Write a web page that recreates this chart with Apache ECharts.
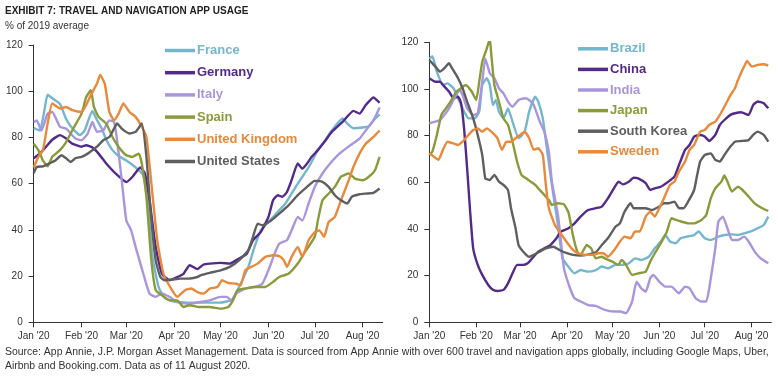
<!DOCTYPE html>
<html>
<head>
<meta charset="utf-8">
<script src="https://cdn.jsdelivr.net/npm/echarts@6/dist/echarts.min.js"></script>
<style>
html,body{margin:0;padding:0;background:#fff;}
#c{width:778px;height:377px;}
</style>
</head>
<body>
<div id="c"></div>
<script>
// ---- Data (dates are MM-DD in 2020, values % of 2019 average) ----
const monthLabels = ["Jan '20","Feb '20","Mar '20","Apr '20","May '20","Jun '20","Jul '20","Aug '20"];
const yTicks = [0, 20, 40, 60, 80, 100, 120];

const france = [['01-01',84],['01-05',83],['01-08',92],['01-10',98.5],['01-14',96.5],['01-18',94.5],['01-22',88],['01-26',84],['01-31',81],['02-03',83],['02-08',91.5],['02-11',87.5],['02-14',84],['02-17',79],['02-21',74.5],['02-25',72],['03-01',70],['03-07',67],['03-12',63.5],['03-15',50],['03-18',28],['03-22',15],['03-26',10.5],['04-01',9],['04-10',8.5],['04-20',8.5],['04-30',8.5],['05-05',9],['05-09',10],['05-13',15.3],['05-19',24],['05-23',32.6],['05-27',39.8],['05-30',42],['06-05',46.3],['06-12',51.4],['06-16',55.7],['06-20',60],['06-27',67],['07-03',74.5],['07-08',78.8],['07-12',83],['07-19',88.2],['07-22',86],['07-26',84],['08-01',84.3],['08-05',84.8],['08-08',87.4],['08-12',90]];
const germany = [['01-01',71],['01-05',73],['01-09',76],['01-13',79],['01-18',81],['01-22',79.5],['01-26',77.3],['02-01',76],['02-04',76.6],['02-08',75.6],['02-12',73],['02-17',68.7],['02-23',64.4],['03-01',60.7],['03-05',63],['03-10',67],['03-13',64.4],['03-16',52.8],['03-20',32.6],['03-24',21],['03-29',18.2],['04-03',19.6],['04-07',21],['04-11',24.7],['04-16',23],['04-20',25],['04-24',25.4],['05-01',25.7],['05-07',25.4],['05-13',27.6],['05-18',29.7],['05-22',35.5],['05-27',39],['06-01',45.6],['06-04',52.8],['06-07',55],['06-10',54.3],['06-13',56.4],['06-16',61.5],['06-20',68.7],['06-23',66.5],['06-26',68.7],['06-29',71.6],['07-03',74.5],['07-08',78.8],['07-12',82.4],['07-19',86.7],['07-26',91.5],['07-30',90.3],['08-03',94],['08-08',97.3],['08-12',95]];
const italy = [['01-01',86.7],['01-03',87.4],['01-06',83],['01-10',90.3],['01-13',91],['01-18',84.6],['01-22',83.8],['01-28',79.5],['02-01',78.8],['02-05',81.7],['02-08',86.7],['02-11',82.4],['02-15',83],['02-19',87.4],['02-22',86.7],['02-24',78.8],['02-27',61.5],['03-01',44],['03-04',40],['03-07',32.6],['03-12',21],['03-16',12.4],['03-20',11],['03-24',12.4],['03-29',11],['04-03',8.8],['04-10',8],['04-18',8.8],['04-24',9.5],['05-01',11],['05-05',11],['05-08',9.5],['05-11',12.4],['05-17',14.6],['05-23',15.3],['05-28',16.7],['06-01',22.5],['06-05',29.7],['06-08',34],['06-13',35.5],['06-16',39.8],['06-20',45.6],['06-23',44],['06-27',51.4],['07-01',58.6],['07-06',64.4],['07-10',68],['07-17',73],['07-24',76.6],['07-30',79.5],['08-03',83],['08-08',87.4],['08-12',93]];
const spain = [['01-01',77.3],['01-04',74.5],['01-07',70],['01-10',67.5],['01-13',71.6],['01-18',74.5],['01-22',78],['01-26',83.1],['02-01',90.3],['02-04',97.5],['02-07',100.4],['02-09',93.2],['02-12',88.9],['02-17',86],['02-21',80.2],['02-25',75.9],['03-01',72.3],['03-05',71.6],['03-09',73],['03-11',68.7],['03-14',54.3],['03-17',28],['03-20',13.9],['03-24',11.7],['03-29',9.5],['04-03',9.5],['04-07',6.6],['04-11',7.4],['04-17',6.6],['04-24',6.6],['05-01',5.9],['05-06',6.6],['05-09',9.5],['05-12',13.9],['05-17',14.6],['05-23',15.3],['05-30',15.3],['06-04',17.5],['06-08',19.6],['06-14',21],['06-20',25.4],['06-24',29.7],['07-01',37],['07-03',44],['07-06',52.8],['07-10',55.7],['07-14',58.6],['07-18',63],['07-23',64.4],['07-27',62.2],['08-01',61.5],['08-05',63],['08-09',65.8],['08-12',71.6]];
const unitedKingdom = [['01-01',67],['01-04',71.6],['01-07',74.5],['01-10',86],['01-13',94.7],['01-18',92.5],['01-22',93.2],['01-26',91.8],['02-01',91],['02-04',94],['02-07',98.3],['02-11',103.3],['02-13',107],['02-16',103.3],['02-19',91],['02-22',87.4],['02-25',90.3],['02-28',94.7],['03-03',91],['03-07',88.9],['03-11',84.6],['03-14',80.2],['03-17',61.5],['03-21',35.5],['03-25',21],['03-30',14.6],['04-03',11],['04-08',13.9],['04-12',14.6],['04-16',13.1],['04-20',12.4],['04-24',14.6],['04-29',15.3],['05-02',18.2],['05-06',17],['05-11',16.7],['05-14',16],['05-17',22.5],['05-21',24],['05-25',25.4],['05-30',28.3],['06-04',29],['06-08',28.6],['06-11',26.8],['06-13',24],['06-16',28.3],['06-20',32.6],['06-23',28.3],['06-27',35.5],['07-01',39],['07-04',39.8],['07-07',37],['07-10',43.4],['07-14',45.6],['07-18',52.8],['07-23',61.5],['07-26',67.2],['07-30',73],['08-03',77.3],['08-08',80.2],['08-12',83]];
const unitedStates = [['01-01',64.5],['01-03',67.2],['01-07',67.5],['01-11',68.7],['01-15',70],['01-19',72.3],['01-22',71],['01-25',69.4],['01-28',71],['02-01',71.6],['02-05',73],['02-08',74.5],['02-11',76],['02-15',78.8],['02-19',80.2],['02-22',83.8],['02-24',86],['02-27',83.8],['03-03',81.7],['03-07',82.4],['03-11',86],['03-14',71.6],['03-17',45.6],['03-20',26.8],['03-23',19.6],['03-26',18.2],['03-31',18.5],['04-05',18.9],['04-10',18.9],['04-16',19.6],['04-18',20.3],['04-24',21.4],['05-01',22.5],['05-07',24],['05-13',26.8],['05-19',31.2],['05-22',37],['05-25',42.7],['05-28',42],['06-03',44.2],['06-08',47],['06-14',50.6],['06-20',55],['06-26',58.6],['07-01',61.2],['07-06',60.8],['07-10',58.6],['07-14',55],['07-18',52.8],['07-22',51.4],['07-25',54.3],['07-30',55.4],['08-03',55.7],['08-08',56],['08-12',57.9]];

const brazil = [['01-01',113],['01-03',114],['01-06',107.4],['01-10',101.7],['01-13',102.4],['01-17',100.3],['01-20',96],['01-24',90.3],['01-27',87.4],['01-31',87.4],['02-03',90.3],['02-05',101.7],['02-08',104.6],['02-10',101.7],['02-12',93.1],['02-14',95.3],['02-16',90.3],['02-19',87.4],['02-22',91.7],['02-25',86],['02-29',78.9],['03-04',81.7],['03-07',90.3],['03-11',96.7],['03-13',94.6],['03-16',87.4],['03-19',73],['03-22',58.9],['03-26',41.7],['03-29',27.4],['04-01',24.6],['04-06',21],['04-10',22.4],['04-15',21.7],['04-20',22.4],['04-24',23.9],['04-28',23.1],['05-03',24.6],['05-07',24.6],['05-12',25.3],['05-16',27.4],['05-20',26.7],['05-25',28.1],['05-29',31.7],['06-02',34.6],['06-05',37.4],['06-08',34.6],['06-12',33.9],['06-15',36],['06-19',36.7],['06-24',37.4],['06-27',38.9],['07-01',36],['07-05',35.3],['07-10',36.7],['07-14',37.4],['07-19',37.7],['07-23',37.4],['07-27',38.1],['08-01',39.1],['08-05',40.3],['08-09',41.7],['08-12',45.3]];
const china = [['01-01',104.6],['01-05',103.1],['01-08',103.1],['01-11',101],['01-14',98.9],['01-17',96],['01-20',96.7],['01-22',93.9],['01-24',83],['01-26',66],['01-28',47.4],['01-30',31.7],['02-02',24.6],['02-05',20.3],['02-09',16],['02-12',13.9],['02-15',13.4],['02-19',13.9],['02-22',16.7],['02-25',21],['02-28',24.6],['03-03',24.6],['03-06',25.3],['03-09',27.4],['03-13',30.3],['03-17',31.7],['03-21',33.1],['03-25',36],['03-28',38.9],['04-02',40.3],['04-06',42.4],['04-10',45.3],['04-15',48.1],['04-20',48.9],['04-24',49.6],['04-28',53.1],['05-02',57.4],['05-05',60.3],['05-08',59.1],['05-12',60.3],['05-15',62],['05-18',61.7],['05-23',59.6],['05-26',56.7],['05-29',57.4],['06-02',58.1],['06-07',60.3],['06-11',62.4],['06-14',67.4],['06-18',73.9],['06-21',76],['06-24',79.6],['06-28',80.3],['07-01',79.6],['07-04',77.7],['07-08',80.3],['07-11',84.6],['07-14',86.7],['07-18',88.9],['07-21',89.6],['07-25',90],['07-30',88.9],['08-02',93.1],['08-05',94.6],['08-09',93.9],['08-12',91.7]];
const india = [['01-01',85.3],['01-05',86],['01-08',86.7],['01-11',88.9],['01-14',91.7],['01-17',95.3],['01-21',99.6],['01-23',97.4],['01-26',91.7],['01-30',88.9],['02-02',89.6],['02-05',103.1],['02-07',113],['02-10',106.7],['02-13',104.6],['02-16',100.3],['02-19',98.1],['02-22',94.6],['02-25',92.4],['02-29',95.3],['03-04',96],['03-07',95.3],['03-10',93.1],['03-14',86],['03-17',81.7],['03-20',73],['03-22',60.3],['03-26',46],['03-28',34.6],['03-30',23.1],['04-03',14.6],['04-06',10.3],['04-10',8.9],['04-15',7.4],['04-20',7],['04-26',5.3],['05-02',4.6],['05-06',4.6],['05-10',3.9],['05-14',8.9],['05-17',17.4],['05-20',14.6],['05-23',13.1],['05-26',18.9],['05-28',20.3],['06-01',17.4],['06-05',15.3],['06-09',15.3],['06-14',12.4],['06-18',15.3],['06-21',14.6],['06-25',10.3],['06-29',8.9],['07-02',8.9],['07-04',14.6],['07-08',31.7],['07-10',43.1],['07-13',45.3],['07-16',40.3],['07-19',35.3],['07-23',35.3],['07-27',36.7],['07-30',34.6],['08-03',30.3],['08-07',27.4],['08-12',25.3]];
const japan = [['01-01',71.7],['01-03',73.1],['01-06',80.3],['01-09',88.9],['01-12',91.7],['01-15',94.6],['01-19',98.9],['01-22',100.3],['01-25',101.7],['01-29',98.9],['02-01',95.3],['02-03',103.1],['02-05',111.7],['02-08',117.4],['02-10',121.5],['02-11',114.6],['02-13',101.7],['02-16',94.6],['02-19',87.4],['02-22',84.6],['02-25',77.4],['02-28',68.9],['03-02',63.1],['03-05',61.7],['03-08',60.3],['03-11',58.9],['03-13',57.4],['03-17',54.6],['03-20',52.4],['03-22',50.3],['03-26',51],['03-30',50.5],['04-02',47],['04-05',37],['04-08',30],['04-10',28.9],['04-14',33.1],['04-17',31.7],['04-20',27.4],['04-24',28.1],['04-26',27.4],['05-01',26],['05-05',24.6],['05-07',26.7],['05-10',24.6],['05-14',20.3],['05-18',21],['05-23',21.7],['05-26',26],['05-29',29.6],['06-02',33.9],['06-06',38.9],['06-09',44.6],['06-12',43.9],['06-16',43.1],['06-20',42.4],['06-24',42.4],['06-29',43.9],['07-02',46],['07-05',53.1],['07-08',57.4],['07-12',60.3],['07-14',62.9],['07-16',60.3],['07-19',56],['07-23',58.1],['07-26',56.7],['07-30',53.9],['08-03',51],['08-08',48.9],['08-12',47.7]];
const southKorea = [['01-01',112.4],['01-05',109.6],['01-08',107.4],['01-11',108.9],['01-14',111],['01-16',108.9],['01-20',104.6],['01-23',100.3],['01-26',94.6],['01-30',87.4],['02-02',80.3],['02-05',71.7],['02-07',61.7],['02-10',61],['02-13',63.1],['02-16',60.3],['02-19',58.9],['02-22',56.7],['02-24',48.9],['02-27',40.3],['02-29',33.1],['03-04',29.6],['03-07',28.1],['03-10',28.9],['03-14',30.3],['03-18',31.7],['03-23',32.4],['03-27',31],['04-01',29.6],['04-05',28.9],['04-10',28.6],['04-14',28.9],['04-20',30],['04-24',33.1],['04-28',36],['05-03',41],['05-06',42.4],['05-09',47.4],['05-13',51],['05-15',48.9],['05-18',48.9],['05-23',48.9],['05-27',48.1],['06-01',49.6],['06-04',51],['06-07',51],['06-11',51.7],['06-14',48.9],['06-17',48.9],['06-20',51.7],['06-24',56.7],['06-26',63.1],['06-28',68.9],['07-01',71.7],['07-05',72.4],['07-08',69.6],['07-11',68.9],['07-14',71.7],['07-18',75.3],['07-21',77.4],['07-25',77.7],['07-30',78.1],['08-02',80.3],['08-05',81.7],['08-09',80.3],['08-12',77.4]];
const sweden = [['01-01',72.4],['01-04',71],['01-07',69.6],['01-10',73.9],['01-13',77.4],['01-17',76.7],['01-20',76],['01-23',77.4],['01-26',79.6],['01-30',82.4],['02-02',83.1],['02-05',81.7],['02-08',83.1],['02-11',81.7],['02-15',78.9],['02-18',73.9],['02-21',77.4],['02-24',77.4],['02-27',78.9],['03-01',80.3],['03-04',81.7],['03-07',78.9],['03-10',73.9],['03-13',74.6],['03-16',71.7],['03-18',58.9],['03-20',48.9],['03-24',41.7],['03-27',38.9],['03-30',36],['04-04',31.7],['04-08',29.6],['04-13',28.9],['04-17',28.9],['04-22',29.6],['04-25',29.6],['04-28',28.1],['05-03',31.7],['05-06',34.6],['05-09',36.7],['05-13',36],['05-16',38.9],['05-19',38.9],['05-23',45.3],['05-26',47.4],['05-29',45.3],['06-01',48.9],['06-04',53.1],['06-08',58.9],['06-11',60.3],['06-14',64.6],['06-18',68.9],['06-21',73.9],['06-24',76],['06-28',81.7],['07-01',82.4],['07-04',84.6],['07-08',86],['07-11',88.9],['07-14',92.4],['07-18',97.4],['07-21',100.3],['07-23',103.9],['07-27',109.6],['07-29',112],['08-01',109.6],['08-05',110.3],['08-09',110.6],['08-12',110]];

const leftNames = ['France','Germany','Italy','Spain','United Kingdom','United States'];
const leftData = [france, germany, italy, spain, unitedKingdom, unitedStates];
const rightNames = ['Brazil','China','India','Japan','South Korea','Sweden'];
const rightData = [brazil, china, india, japan, southKorea, sweden];

// ---- Styling ----
const BLUE = '#74b6ce', PURPLE = '#532a89', LAV = '#a995dc', OLIVE = '#8b9a3a', ORANGE = '#e8893b', GRAY = '#5f5f5f';
const leftColors = [BLUE, PURPLE, LAV, OLIVE, ORANGE, GRAY];
const rightColors = [BLUE, PURPLE, LAV, OLIVE, GRAY, ORANGE];
const FONT = '"Liberation Sans", Arial, sans-serif';
const TXT = '#333333';

function toTime(d) { const p = d.split('-'); return new Date(2020, +p[0]-1, +p[1]).getTime(); }
function pts(arr) { return arr.map(r => [toTime(r[0]), r[1]]); }

const xMin = new Date(2020,0,1).getTime();
const xMax = new Date(2020,7,14).getTime();
const DAY = 86400000;

function xAxisCfg(gi) {
  return {
    type: 'time', gridIndex: gi, min: xMin, max: xMax,
    minInterval: 28*DAY, maxInterval: 31*DAY,
    splitLine: {show: false},
    axisLine: {show: true, lineStyle: {color: '#333', width: 1}},
    axisTick: {show: true, length: 5, lineStyle: {color: '#333'}},
    axisLabel: {
      fontFamily: FONT, fontSize: 10, color: TXT, margin: 9, hideOverlap: false,
      showMaxLabel: false,
      formatter: function (v) { return monthLabels[new Date(v).getMonth()]; }
    }
  };
}
function yAxisCfg(gi) {
  return {
    type: 'value', gridIndex: gi, min: yTicks[0], max: yTicks[yTicks.length-1], interval: 20,
    splitLine: {show: false},
    axisLine: {show: true, lineStyle: {color: '#333', width: 1}},
    axisTick: {show: true, length: 5, lineStyle: {color: '#333'}},
    axisLabel: {fontFamily: FONT, fontSize: 10, color: TXT, margin: 11}
  };
}
function legendCfg(names, colors, left, top, gap) {
  return {
    orient: 'vertical', left: left, top: top, itemGap: gap,
    itemWidth: 30, itemHeight: 3.5, icon: 'rect', padding: 0,
    selectedMode: false,
    data: names.map((n, i) => ({name: n, textStyle: {color: colors[i]}})),
    textStyle: {fontFamily: FONT, fontSize: 13, fontWeight: 'bold', padding: [0,0,0,-3]}
  };
}
function mkSeries(names, data, colors, gi) {
  return names.map((n, i) => ({
    name: n, type: 'line', xAxisIndex: gi, yAxisIndex: gi,
    data: pts(data[i]), showSymbol: false, smooth: 0.15,
    lineStyle: {color: colors[i], width: 2.4}, itemStyle: {color: colors[i]},
    emphasis: {disabled: true}, animation: false, clip: true
  }));
}

const chart = echarts.init(document.getElementById('c'), null, {renderer: 'canvas'});
chart.setOption({
  animation: false,
  backgroundColor: '#ffffff',
  title: [
    {text: 'EXHIBIT 7: TRAVEL AND NAVIGATION APP USAGE', left: 5, top: 5, padding: 0,
     textStyle: {fontFamily: FONT, fontSize: 10, fontWeight: 'bold', color: '#222', lineHeight: 12}},
    {text: '% of 2019 average', left: 5, top: 20, padding: 0,
     textStyle: {fontFamily: FONT, fontSize: 10, fontWeight: 'normal', color: TXT, lineHeight: 12}},
    {text: 'Source: App Annie, J.P. Morgan Asset Management. Data is sourced from App Annie with over 600 travel and navigation apps globally, including Google Maps, Uber,\nAirbnb and Booking.com. Data as of 11 August 2020.',
     left: 5, top: 345, padding: 0,
     textStyle: {fontFamily: FONT, fontSize: 10.45, fontWeight: 'normal', color: TXT, lineHeight: 14}}
  ],
  grid: [
    {left: 33.7, top: 45, width: 349, height: 277.3, containLabel: false},
    {left: 429.3, top: 42.3, width: 342, height: 280, containLabel: false}
  ],
  xAxis: [xAxisCfg(0), xAxisCfg(1)],
  yAxis: [yAxisCfg(0), yAxisCfg(1)],
  legend: [legendCfg(leftNames, leftColors, 165, 44, 9.2), legendCfg(rightNames, rightColors, 578, 42.3, 7.6)],
  series: mkSeries(leftNames, leftData, leftColors, 0).concat(mkSeries(rightNames, rightData, rightColors, 1))
});
</script>
</body>
</html>
